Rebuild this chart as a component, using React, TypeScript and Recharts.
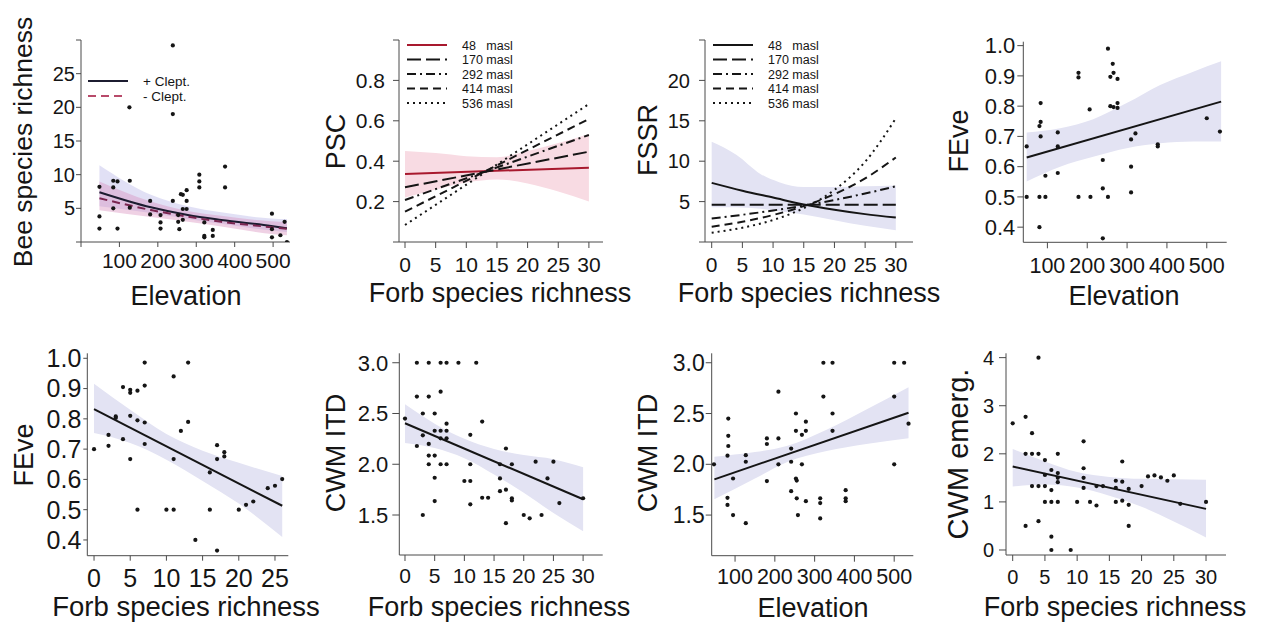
import React from 'react';
import { ComposedChart, XAxis, YAxis, Scatter, Line, Area } from 'recharts';

const FONT = '"Liberation Sans", Arial, Helvetica, sans-serif';
const INK = '#151515';
const AXIS = '#4a4a4a';
const LAVENDER = '#e3e3f3';
const PINK = '#f8dbe3';
const RED = '#a8192e';

type Pair = [number, number];
type Triple = [number, number, number];

// ---------- Bee species richness vs elevation ----------
const beeRichness: Pair[] = [
  [48, 8.2], [48, 3.8], [48, 2.0], [84, 9.1], [84, 8.1], [84, 5.0], [95, 9.0], [95, 2.0],
  [126, 20], [127, 9.1], [127, 5.1], [180, 6.1], [180, 4.1], [207, 4.0], [207, 2.9], [207, 2.0],
  [239, 29.2], [239, 19], [239, 6.1], [253, 4.0], [253, 3.0], [256, 1.9], [260, 7.1], [265, 7.0],
  [265, 4.9], [265, 3.3], [275, 7.7], [275, 6.1], [275, 4.9], [308, 10], [308, 9.0], [308, 8.1],
  [321, 2.9], [321, 0.9], [321, 0.7], [343, 1.8], [343, 0.9], [375, 11.2], [375, 8.1],
  [497, 4.2], [497, 1.9], [497, 0.7], [519, 1.0], [530, 3.0], [536, 0],
];
const beePlusFit: Pair[] = [[48, 7.4], [182, 5.15], [278, 4.0], [365, 3.27], [495, 2.38], [536, 2.05]];
const beeMinusFit: Pair[] = [[48, 6.5], [182, 4.75], [278, 3.76], [365, 3.0], [495, 2.2], [536, 1.95]];
const beePlusBand: Triple[] = [[48, 5.3, 11.4], [182, 4.3, 7.0], [278, 3.4, 5.3], [365, 2.7, 4.4], [495, 1.7, 3.5], [536, 1.5, 3.4]];
const beeMinusBand: Triple[] = [[48, 4.7, 9.0], [182, 3.7, 6.0], [278, 3.0, 4.6], [365, 2.3, 3.9], [495, 1.2, 3.1], [536, 1.0, 3.0]];
const cleptLabels = ['+ Clept.', '- Clept.'];

// ---------- Model predictions at five elevations ----------
const elevationLevels = ['48   masl', '170 masl', '292 masl', '414 masl', '536 masl'];
const levelDash = ['', '14 5', '9 4 2 4', '8 5', '2 4'];

// PSC vs forb richness (straight fits, start and end values)
const pscForbEnds = [0, 30];
const pscStart = [0.337, 0.271, 0.208, 0.15, 0.084];
const pscEnd = [0.368, 0.447, 0.53, 0.609, 0.683];
const pscBand: Triple[] = [[0, 0.22, 0.45], [5, 0.26, 0.44], [10, 0.295, 0.425], [15, 0.31, 0.42], [20, 0.29, 0.45], [25, 0.25, 0.49], [30, 0.2, 0.535]];

// FSSR vs forb richness
const fssrForb = [0, 5, 10, 15, 20, 25, 30];
const fssrCurves: number[][] = [
  [7.32, 6.35, 5.5, 4.65, 4.0, 3.45, 3.02],
  [4.6, 4.6, 4.6, 4.6, 4.6, 4.6, 4.6],
  [2.92, 3.37, 3.9, 4.5, 5.2, 6.0, 6.9],
  [1.89, 2.51, 3.34, 4.45, 5.92, 7.87, 10.46],
  [1.15, 1.77, 2.72, 4.19, 6.45, 9.93, 15.3],
];
const fssrBand: Triple[] = [[0, 4.3, 12.4], [4, 4.3, 10.8], [8, 4.1, 8.4], [11, 3.8, 7.4], [15, 3.4, 6.8], [20, 2.7, 6.8], [25, 2.0, 6.9], [30, 1.45, 7.0]];

// ---------- FEve vs elevation ----------
const feveElev: Pair[] = [
  [48, 0.667], [48, 0.5], [80, 0.4], [80, 0.5], [80, 0.734], [83, 0.748], [83, 0.81], [83, 0.7],
  [95, 0.57], [95, 0.5], [126, 0.713], [126, 0.667], [126, 0.579], [178, 0.91], [178, 0.895],
  [178, 0.5], [206, 0.789], [208, 0.5], [239, 0.622], [239, 0.528], [239, 0.363], [252, 0.99],
  [252, 0.5], [258, 0.897], [258, 0.8], [264, 0.94], [266, 0.91], [266, 0.797], [276, 0.89],
  [276, 0.81], [276, 0.794], [310, 0.69], [310, 0.6], [310, 0.515], [321, 0.71], [377, 0.674],
  [377, 0.667], [500, 0.76], [533, 0.716],
];
const feveElevFit: Pair[] = [[48, 0.63], [536, 0.815]];
const feveElevBand: Triple[] = [[48, 0.551, 0.713], [132, 0.6, 0.727], [215, 0.633, 0.757], [299, 0.661, 0.81], [383, 0.677, 0.87], [466, 0.683, 0.914], [536, 0.683, 0.948]];

// ---------- FEve vs forb richness ----------
const feveForb: Pair[] = [
  [0, 0.7], [2, 0.747], [2, 0.711], [3, 0.808], [3, 0.803], [4, 0.905], [4, 0.733], [5, 0.896],
  [5, 0.886], [5, 0.81], [5, 0.667], [6, 0.893], [6, 0.795], [6, 0.5], [7, 0.986], [7, 0.91],
  [7, 0.788], [7, 0.717], [10, 0.5], [11, 0.94], [11, 0.667], [11, 0.5], [12, 0.76], [13, 0.986],
  [13, 0.79], [14, 0.4], [16, 0.623], [16, 0.5], [17, 0.713], [17, 0.667], [17, 0.365], [18, 0.69],
  [18, 0.676], [20, 0.5], [21, 0.516], [22, 0.527], [24, 0.571], [25, 0.579], [26, 0.601],
];
const feveForbFit: Pair[] = [[0, 0.832], [26, 0.513]];
const feveForbBand: Triple[] = [[0, 0.753, 0.916], [5, 0.72, 0.83], [10, 0.665, 0.75], [15, 0.595, 0.695], [20, 0.52, 0.655], [26, 0.41, 0.611]];

// ---------- CWM ITD vs forb richness ----------
const itdForb: Pair[] = [
  [0, 2.45], [2, 3.0], [2, 2.667], [2, 2.18], [3, 2.5], [3, 2.285], [3, 1.5], [4, 3.0], [4, 2.667],
  [4, 2.2], [4, 2.085], [4, 2.0], [5, 2.5], [5, 2.33], [5, 2.085], [5, 1.867], [5, 1.637], [6, 3.0],
  [6, 2.715], [6, 2.33], [6, 2.255], [6, 2.0], [7, 3.0], [7, 2.4], [7, 2.33], [7, 2.255], [7, 2.0],
  [9, 3.0], [10, 1.835], [11, 2.29], [11, 2.0], [11, 1.835], [11, 1.605], [12, 3.0], [13, 2.42],
  [13, 1.67], [14, 1.67], [16, 2.0], [16, 1.86], [16, 1.735], [17, 2.155], [17, 1.75], [17, 1.42],
  [18, 2.0], [18, 1.665], [18, 1.643], [20, 1.5], [21, 1.467], [22, 2.025], [23, 1.5], [24, 1.86],
  [25, 2.025], [26, 1.618], [30, 1.665],
];
const itdForbFit: Pair[] = [[0, 2.404], [30, 1.655]];
const itdForbBand: Triple[] = [[0, 2.21, 2.59], [5, 2.16, 2.4], [10, 2.06, 2.25], [15, 1.9, 2.15], [20, 1.72, 2.09], [25, 1.52, 2.05], [30, 1.34, 1.97]];

// ---------- CWM ITD vs elevation ----------
const itdElev: Pair[] = [
  [47, 2.0], [83, 2.45], [83, 2.28], [83, 2.18], [81, 2.085], [81, 1.67], [81, 1.6], [95, 1.86],
  [95, 1.5], [127, 2.09], [127, 2.025], [127, 1.42], [180, 2.255], [180, 2.2], [180, 1.835],
  [209, 2.715], [209, 2.255], [209, 2.0], [241, 2.155], [241, 2.025], [241, 1.735], [253, 2.5],
  [253, 2.33], [253, 1.86], [255, 1.84], [255, 1.665], [258, 1.5], [268, 2.29], [268, 2.0],
  [278, 2.42], [278, 2.33], [278, 1.637], [314, 1.665], [314, 1.618], [314, 1.467], [322, 3.0],
  [322, 2.667], [345, 3.0], [345, 2.5], [345, 2.33], [378, 1.745], [378, 1.665], [378, 1.637],
  [500, 3.0], [500, 2.667], [500, 2.0], [525, 3.0], [536, 2.4],
];
const itdElevFit: Pair[] = [[48, 1.852], [536, 2.508]];
const itdElevBand: Triple[] = [[48, 1.655, 2.075], [150, 1.86, 2.12], [230, 2.02, 2.18], [330, 2.13, 2.34], [430, 2.2, 2.54], [536, 2.256, 2.758]];

// ---------- CWM emergence vs forb richness ----------
const emergForb: Pair[] = [
  [0, 2.634], [2, 2.77], [2, 2.0], [2, 0.5], [3, 2.43], [3, 2.0], [3, 1.33], [4, 4.0], [4, 2.0],
  [4, 1.33], [4, 0.6], [5, 1.87], [5, 1.56], [5, 1.33], [5, 1.0], [6, 1.663], [6, 1.247], [6, 1.0],
  [6, 0.277], [6, 0.0], [7, 2.0], [7, 1.6], [7, 1.5], [7, 1.41], [7, 1.0], [9, 0], [10, 1.0],
  [11, 2.26], [11, 1.7], [11, 1.5], [11, 1.29], [12, 1.0], [13, 1.33], [13, 0.925], [14, 1.33],
  [16, 1.44], [16, 1.29], [16, 1.0], [17, 1.84], [17, 1.42], [17, 1.025], [18, 1.27], [18, 0.94],
  [18, 0.5], [20, 1.33], [21, 1.53], [22, 1.55], [23, 1.51], [24, 1.44], [25, 1.55], [26, 0.96],
  [30, 1.0],
];
const emergForbFit: Pair[] = [[0, 1.736], [30, 0.855]];
const emergForbBand: Triple[] = [[0, 1.32, 2.1], [5, 1.36, 1.84], [10, 1.3, 1.62], [15, 1.13, 1.52], [20, 0.9, 1.48], [25, 0.59, 1.47], [30, 0.26, 1.46]];

// ---------- helpers ----------
const toPts = (rows: Pair[]) => rows.map(([x, y]) => ({ x, y }));
const toBand = (rows: Triple[]) => rows.map(([x, lo, hi]) => ({ x, band: [lo, hi] }));
const seq = (from: number, to: number, step: number) => {
  const out: number[] = [];
  for (let v = from; v <= to + 1e-9; v += step) out.push(Math.round(v * 1000) / 1000);
  return out;
};

type AxisSpec = {
  domain: [number, number];
  ticks: number[];
  hide?: number[];
  digits?: number;
  font: number;
  size: number;
  margin: number;
};
type PanelSpec = { cell: [number, number, number, number]; plot: [number, number, number, number]; x: AxisSpec; y: AxisSpec };

const Y_W = 40;
const X_H = 40;

const fmt = (a: AxisSpec) => (v: number) =>
  a.hide && a.hide.some((h) => Math.abs(h - v) < 1e-9) ? '' : a.digits ? v.toFixed(a.digits) : String(v);

const Dot = (p: any) => <circle cx={p.cx} cy={p.cy} r={2.1} fill={INK} />;

function Panel({ spec, children }: { spec: PanelSpec; children: React.ReactNode }) {
  const [cx, cy, cw, ch] = spec.cell;
  const [l, t, r, b] = spec.plot;
  const margin = { left: l - cx - Y_W, top: t - cy, right: cx + cw - r, bottom: cy + ch - b - X_H };
  return (
    <div style={{ position: 'absolute', left: cx, top: cy, width: cw, height: ch }}>
      <ComposedChart width={cw} height={ch} margin={margin}>
        <XAxis
          type="number"
          dataKey="x"
          domain={spec.x.domain}
          ticks={spec.x.ticks}
          allowDataOverflow
          interval={0}
          height={X_H}
          tickSize={spec.x.size}
          tickMargin={spec.x.margin}
          tickFormatter={fmt(spec.x)}
          tick={{ fill: INK, fontSize: spec.x.font, fontFamily: FONT }}
          stroke={AXIS}
        />
        <YAxis
          type="number"
          domain={spec.y.domain}
          ticks={spec.y.ticks}
          allowDataOverflow
          interval={0}
          width={Y_W}
          tickSize={spec.y.size}
          tickMargin={spec.y.margin}
          tickFormatter={fmt(spec.y)}
          tick={{ fill: INK, fontSize: spec.y.font, fontFamily: FONT }}
          stroke={AXIS}
        />
        {children}
      </ComposedChart>
    </div>
  );
}

const bandArea = (rows: Triple[], fill: string, key: string, opacity = 1) => (
  <Area
    key={key}
    data={toBand(rows)}
    dataKey="band"
    type="monotone"
    stroke="none"
    fill={fill}
    fillOpacity={opacity}
    activeDot={false}
    isAnimationActive={false}
  />
);
const fitLine = (rows: { x: number; y: number }[], key: string, color = INK, dash = '', kind: 'monotone' | 'linear' = 'linear') => (
  <Line
    key={key}
    data={rows}
    dataKey="y"
    type={kind}
    stroke={color}
    strokeWidth={2}
    strokeDasharray={dash || undefined}
    dot={false}
    activeDot={false}
    isAnimationActive={false}
  />
);
const dots = (rows: Pair[], key: string) => (
  <Scatter key={key} data={toPts(rows)} dataKey="y" shape={Dot} isAnimationActive={false} />
);

// ---------- panel layouts ----------
const pBee: PanelSpec = {
  cell: [0, 0, 320, 310], plot: [81, 40, 290, 242],
  x: { domain: [0, 544], ticks: seq(0, 500, 100), hide: [0], font: 21, size: 5, margin: 6 },
  y: { domain: [0, 30], ticks: seq(0, 30, 5), hide: [0, 30], font: 20, size: 5, margin: 1 },
};
const pPsc: PanelSpec = {
  cell: [320, 0, 320, 310], plot: [399, 40, 603, 242],
  x: { domain: [-0.98, 32.3], ticks: seq(0, 30, 5), font: 21, size: 6, margin: 9 },
  y: { domain: [0, 1], ticks: seq(0, 1, 0.2), hide: [0, 1], digits: 1, font: 21, size: 6, margin: 8 },
};
const pFssr: PanelSpec = {
  cell: [640, 0, 320, 310], plot: [705, 40, 913, 242],
  x: { domain: [-1.09, 32.8], ticks: seq(0, 30, 5), font: 21, size: 6, margin: 9 },
  y: { domain: [0, 25], ticks: seq(0, 25, 5), hide: [0, 25], font: 20, size: 6, margin: 9 },
};
const pFeveElev: PanelSpec = {
  cell: [960, 0, 306, 310], plot: [1023.3, 41.7, 1226.7, 242.3],
  x: { domain: [39.5, 550], ticks: seq(100, 500, 100), font: 21.5, size: 6, margin: 9 },
  y: { domain: [0.35, 1.013], ticks: seq(0.4, 1.0, 0.1), digits: 1, font: 22, size: 6, margin: 2 },
};
const pFeveForb: PanelSpec = {
  cell: [0, 310, 320, 318], plot: [87.3, 353.3, 288.3, 555.7],
  x: { domain: [-0.93, 26.84], ticks: seq(0, 25, 5), font: 25, size: 5, margin: 9 },
  y: { domain: [0.348, 1.0165], ticks: seq(0.4, 1.0, 0.1), digits: 1, font: 25, size: 4, margin: 2 },
};
const pItdForb: PanelSpec = {
  cell: [320, 310, 320, 318], plot: [399.3, 353.3, 602.7, 555],
  x: { domain: [-0.96, 33.3], ticks: seq(0, 30, 5), font: 21, size: 6, margin: 7 },
  y: { domain: [1.106, 3.093], ticks: seq(1.5, 3.0, 0.5), digits: 1, font: 22, size: 7, margin: 4 },
};
const pItdElev: PanelSpec = {
  cell: [640, 310, 320, 318], plot: [711.7, 353.3, 913.3, 555.7],
  x: { domain: [41.3, 548], ticks: seq(100, 500, 100), font: 21.5, size: 6, margin: 7 },
  y: { domain: [1.1, 3.093], ticks: seq(1.5, 3.0, 0.5), digits: 1, font: 23, size: 6, margin: 1 },
};
const pEmerg: PanelSpec = {
  cell: [960, 310, 306, 318], plot: [1006, 353.3, 1226, 555],
  x: { domain: [-1.04, 33.1], ticks: seq(0, 30, 5), font: 20, size: 6, margin: 9 },
  y: { domain: [-0.104, 4.09], ticks: seq(0, 4, 1), font: 20, size: 7, margin: 5 },
};

// ---------- axis titles and legends ----------
const yTitles: { text: string; x: number; y: number; size: number }[] = [
  { text: 'Bee species richness', x: 32, y: 142, size: 26.5 },
  { text: 'PSC', x: 345, y: 141.5, size: 27 },
  { text: 'FSSR', x: 657, y: 140, size: 27 },
  { text: 'FEve', x: 968, y: 141, size: 27 },
  { text: 'FEve', x: 33, y: 455, size: 27 },
  { text: 'CWM ITD', x: 345, y: 453, size: 27 },
  { text: 'CWM ITD', x: 657, y: 453, size: 27 },
  { text: 'CWM emerg.', x: 968, y: 454, size: 29 },
];
const xTitles: { text: string; x: number; y: number; size: number }[] = [
  { text: 'Elevation', x: 186, y: 305, size: 27 },
  { text: 'Forb species richness', x: 500, y: 302, size: 27 },
  { text: 'Forb species richness', x: 809, y: 302, size: 27 },
  { text: 'Elevation', x: 1124, y: 305, size: 27 },
  { text: 'Forb species richness', x: 186, y: 616, size: 27.5 },
  { text: 'Forb species richness', x: 499, y: 616, size: 27 },
  { text: 'Elevation', x: 813, y: 617, size: 27 },
  { text: 'Forb species richness', x: 1115, y: 616, size: 27 },
];
const legendRows = [45, 59.5, 74, 88.5, 103];

function Overlay() {
  return (
    <svg width={1266} height={628} style={{ position: 'absolute', left: 0, top: 0, pointerEvents: 'none' }}>
      <g fontFamily={FONT} fill={INK}>
        {yTitles.map((t, i) => (
          <text key={'yt' + i} transform={`translate(${t.x},${t.y}) rotate(-90)`} textAnchor="middle" fontSize={t.size}>
            {t.text}
          </text>
        ))}
        {xTitles.map((t, i) => (
          <text key={'xt' + i} x={t.x} y={t.y} textAnchor="middle" fontSize={t.size}>
            {t.text}
          </text>
        ))}
      </g>

      {/* clepto-parasite legend */}
      <g fontFamily={FONT} fontSize={13.5} fill={INK}>
        <line x1={88} x2={128} y1={81} y2={81} stroke="#1c1c30" strokeWidth={2} />
        <line x1={88} x2={127} y1={96} y2={96} stroke="#b84a6a" strokeWidth={2} strokeDasharray="8 5" />
        <text x={143} y={86}>{cleptLabels[0]}</text>
        <text x={143} y={101}>{cleptLabels[1]}</text>
      </g>

      {/* elevation legends */}
      {[{ lx: 407, tx: 462, first: RED }, { lx: 713, tx: 768, first: INK }].map((lg, j) => (
        <g key={'lg' + j} fontFamily={FONT} fontSize={12.5} fill={INK}>
          {elevationLevels.map((lab, i) => (
            <g key={i}>
              <line
                x1={lg.lx}
                x2={lg.lx + 40}
                y1={legendRows[i]}
                y2={legendRows[i]}
                stroke={i === 0 ? lg.first : INK}
                strokeWidth={2}
                strokeDasharray={levelDash[i] || undefined}
              />
              <text x={lg.tx} y={legendRows[i] + 4.5} style={{ whiteSpace: 'pre' }}>
                {lab}
              </text>
            </g>
          ))}
        </g>
      ))}
    </svg>
  );
}

export default function App() {
  const pscLines = elevationLevels.map((_, i) => [
    { x: pscForbEnds[0], y: pscStart[i] },
    { x: pscForbEnds[1], y: pscEnd[i] },
  ]);
  const fssrLines = fssrCurves.map((c) => c.map((y, k) => ({ x: fssrForb[k], y })));

  return (
    <div style={{ position: 'absolute', left: 0, top: 0, width: 1266, height: 628, background: '#fff', overflow: 'hidden' }}>
      <Panel spec={pBee}>
        {bandArea(beePlusBand, '#c9c6ec', 'b1', 0.55)}
        {bandArea(beeMinusBand, '#d78cbc', 'b2', 0.4)}
        {fitLine(toPts(beePlusFit), 'l1', '#1c1c30', '', 'monotone')}
        {fitLine(toPts(beeMinusFit), 'l2', '#7a2550', '8 5', 'monotone')}
        {dots(beeRichness, 's')}
      </Panel>

      <Panel spec={pPsc}>
        {bandArea(pscBand, PINK, 'b')}
        {pscLines.map((rows, i) => fitLine(rows, 'l' + i, i === 0 ? RED : INK, levelDash[i]))}
      </Panel>

      <Panel spec={pFssr}>
        {bandArea(fssrBand, LAVENDER, 'b')}
        {fssrLines.map((rows, i) => fitLine(rows, 'l' + i, INK, levelDash[i], 'monotone'))}
      </Panel>

      <Panel spec={pFeveElev}>
        {bandArea(feveElevBand, LAVENDER, 'b')}
        {fitLine(toPts(feveElevFit), 'l')}
        {dots(feveElev, 's')}
      </Panel>

      <Panel spec={pFeveForb}>
        {bandArea(feveForbBand, LAVENDER, 'b')}
        {fitLine(toPts(feveForbFit), 'l')}
        {dots(feveForb, 's')}
      </Panel>

      <Panel spec={pItdForb}>
        {bandArea(itdForbBand, LAVENDER, 'b')}
        {fitLine(toPts(itdForbFit), 'l')}
        {dots(itdForb, 's')}
      </Panel>

      <Panel spec={pItdElev}>
        {bandArea(itdElevBand, LAVENDER, 'b')}
        {fitLine(toPts(itdElevFit), 'l')}
        {dots(itdElev, 's')}
      </Panel>

      <Panel spec={pEmerg}>
        {bandArea(emergForbBand, LAVENDER, 'b')}
        {fitLine(toPts(emergForbFit), 'l')}
        {dots(emergForb, 's')}
      </Panel>

      <Overlay />
    </div>
  );
}
